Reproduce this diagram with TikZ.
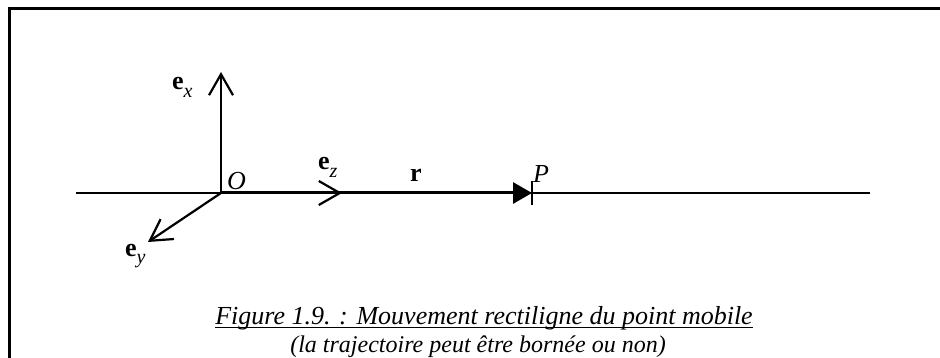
\documentclass[tikz,border=0pt]{standalone}
\usepackage{fontspec}
\setmainfont{Liberation Serif}
\usetikzlibrary{arrows.meta}
\begin{document}
\begin{tikzpicture}[x=1pt,y=-1pt,
  axisline/.style={line width=2.4pt},
  vec/.style={line width=2.2pt,-{Straight Barb[length=21pt,width=24pt,line width=2.2pt]}},
  rvec/.style={line width=3pt,-{Triangle[length=19pt,width=21pt]}},
  lbl/.style={inner sep=0pt,anchor=base west,font=\fontsize{26}{26}\selectfont},
  captext/.style={inner sep=0pt,anchor=base,font=\fontsize{26}{28}\selectfont\itshape}]
\useasboundingbox (0,0) rectangle (940,358);
\fill[white] (0,0) rectangle (940,358);
% frame
\coordinate (fr) at (940,9);
\coordinate (fc) at (9,9);
\coordinate (fb) at (9,358);
\draw[line width=3pt] (fr) -- (fc) -- (fb);
% axis
\coordinate (L) at (76,193);
\coordinate (R) at (870,193);
\coordinate (O) at (221,193);
\coordinate (P) at (532,193);
\coordinate (EX) at (221,72);
\coordinate (EZ) at (342,193);
\coordinate (EY) at (148,242);
\coordinate (Pt) at (532,181);
\coordinate (Pb) at (532,205);
\draw[axisline] (L) -- (R);
\draw[rvec] (O) -- (P);
\draw[line width=2.2pt] (Pt) -- (Pb);
\draw[vec] (O) -- (EX);
\draw[vec] (O) -- (EZ);
\draw[vec] (O) -- (EY);
% labels
\node[lbl] (lex) at (172,90) {\textbf{e}\raisebox{-8pt}{\fontsize{20}{20}\selectfont\itshape x}};
\node[lbl] (lez) at (318,170) {\textbf{e}\raisebox{-8pt}{\fontsize{20}{20}\selectfont\itshape z}};
\node[lbl] (ley) at (125,257) {\textbf{e}\raisebox{-7pt}{\fontsize{20}{20}\selectfont\itshape y}};
\node[lbl] (lO) at (227,190) {\itshape O};
\node[lbl] (lr) at (410,182) {\textbf{r}};
\node[lbl] (lP) at (533,183) {\itshape P};
% caption
\node[captext] (c1) at (484,324) {Figure 1.9. : Mouvement rectiligne du point mobile};
\draw[line width=1.6pt] ([yshift=-3.5pt]c1.base west) -- ([yshift=-3.5pt]c1.base east);
\node[captext,font=\fontsize{24}{25}\selectfont\itshape] (c2) at (478,352) {(la trajectoire peut être bornée ou non)};
\end{tikzpicture}
\end{document}
